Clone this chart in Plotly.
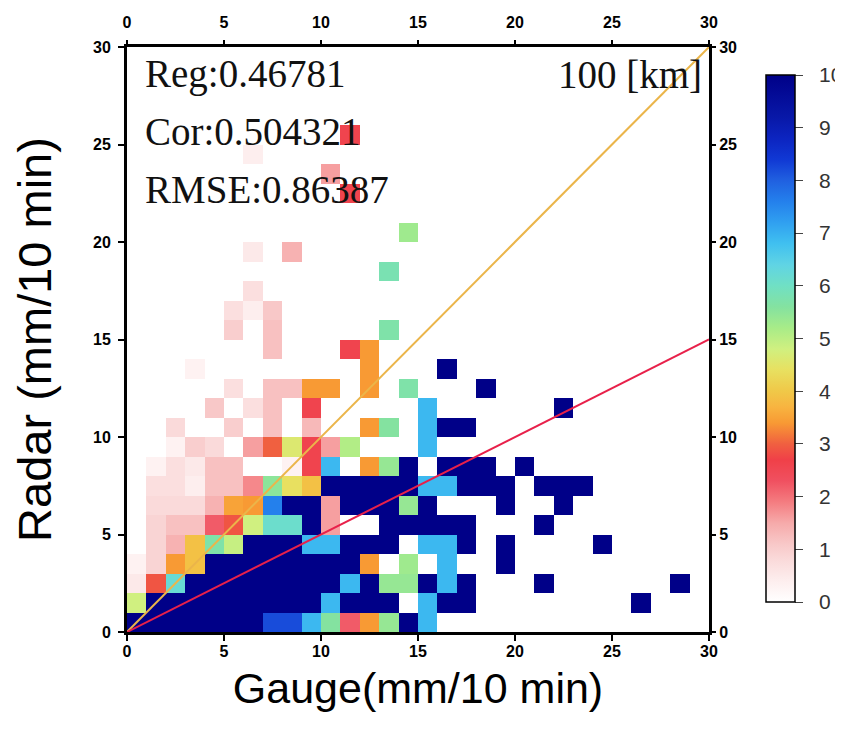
import plotly.graph_objects as go

# ---- data -------------------------------------------------------------
gauge_bins = [i + 0.5 for i in range(30)]   # cell centres (mm/10 min)
radar_bins = [i + 0.5 for i in range(30)]

# counts[row = radar bin][col = gauge bin]
counts = [
    [10,10,10,10,10,10,10,8.2,8.2,6.9, 5.6,2.2,3.4,5.4,10,6.9,0,0,0,0, 0,0,0,0,0,0,0,0,0,0],
    [4.8,10,10,10,10,10,10,10,10,10, 6.9,10,10,10,0,6.9,10,10,0,0, 0,0,0,0,0,0,10,0,0,0],
    [0.5,2.9,6.2,10,10,10,10,10,10,10, 10,6.9,10,5.4,5.4,10,6.9,10,0,0, 0,10,0,0,0,0,0,0,10,0],
    [0.3,0.9,3.4,3.9,10,10,10,10,10,10, 10,10,3.4,0,5.3,0,6.9,0,0,10, 0,0,0,0,0,0,0,0,0,0],
    [0,0.9,1.4,3.9,5.7,4.9,10,10,10,6.9, 6.9,10,10,10,0,6.9,6.9,10,0,10, 0,0,0,0,10,0,0,0,0,0],
    [0,0.9,1.2,1.2,2.2,2.9,4.8,6.1,6.1,10, 1.6,0,0,10,10,10,10,10,0,0, 0,10,0,0,0,0,0,0,0,0],
    [0,0.8,0.8,0.8,1.4,3.5,3.4,7.6,10,10, 1.6,10,10,10,5.4,10,0,0,0,10, 0,0,10,0,0,0,0,0,0,0],
    [0,0.7,0.7,0.4,1.2,1.2,1.8,5.5,4.4,3.9, 10,10,10,10,10,6.9,6.9,10,10,10, 0,10,10,10,0,0,0,0,0,0],
    [0,0.3,0.7,0.5,1.2,1.2,0,0,0.3,2.6, 6.9,0,3.4,5.4,10,0,10,10,10,0, 10,0,0,0,0,0,0,0,0,0],
    [0,0,0.3,1.0,0.8,0,1.6,3.0,4.6,2.6, 1.6,5.1,0,0,0,6.9,0,0,0,0, 0,0,0,0,0,0,0,0,0,0],
    [0,0,0.8,0,0,1.0,0,1.2,0,1.3, 0,0,3.4,5.6,0,6.9,10,10,0,0, 0,0,0,0,0,0,0,0,0,0],
    [0,0,0,0,1.1,0,0.7,1.2,0,2.6, 0,0,0,0,0,6.9,0,0,0,0, 0,0,10,0,0,0,0,0,0,0],
    [0,0,0,0,0,0.7,0,1.2,1.2,3.4, 3.4,0,3.4,0,5.7,0,0,0,10,0, 0,0,0,0,0,0,0,0,0,0],
    [0,0,0,0.3,0,0,0,0,0,0, 0,0,3.4,0,0,0,10,0,0,0, 0,0,0,0,0,0,0,0,0,0],
    [0,0,0,0,0,0,0,1.2,0,0, 0,2.6,3.4,0,0,0,0,0,0,0, 0,0,0,0,0,0,0,0,0,0],
    [0,0,0,0,0,1.0,0,1.2,0,0, 0,0,0,5.7,0,0,0,0,0,0, 0,0,0,0,0,0,0,0,0,0],
    [0,0,0,0,0,0.7,0.4,1.1,0,0, 0,0,0,0,0,0,0,0,0,0, 0,0,0,0,0,0,0,0,0,0],
    [0,0,0,0,0,0,0.7,0,0,0, 0,0,0,0,0,0,0,0,0,0, 0,0,0,0,0,0,0,0,0,0],
    [0,0,0,0,0,0,0,0,0,0, 0,0,0,5.8,0,0,0,0,0,0, 0,0,0,0,0,0,0,0,0,0],
    [0,0,0,0,0,0,0.5,0,1.4,0, 0,0,0,0,0,0,0,0,0,0, 0,0,0,0,0,0,0,0,0,0],
    [0,0,0,0,0,0,0,0,0,0, 0,0,0,0,5.3,0,0,0,0,0, 0,0,0,0,0,0,0,0,0,0],
    [0]*30,
    [0,0,0,0,0,0,0,0,0,0, 0,2.6,0,0,0,0,0,0,0,0, 0,0,0,0,0,0,0,0,0,0],
    [0,0,0,0,0,0,0,0,0,0, 1.6,0,0,0,0,0,0,0,0,0, 0,0,0,0,0,0,0,0,0,0],
    [0,0,0,0,0,0,0.4,0,0,0, 0,0,0,0,0,0,0,0,0,0, 0,0,0,0,0,0,0,0,0,0],
    [0,0,0,0,0,0,0,0,0,0, 0,2.6,0,0,0,0,0,0,0,0, 0,0,0,0,0,0,0,0,0,0],
    [0]*30,
    [0]*30,
    [0]*30,
    [0]*30,
]

axis_ticks = [0, 5, 10, 15, 20, 25, 30]
cbar_ticks = [0, 1, 2, 3, 4, 5, 6, 7, 8, 9, 10]
cbar_labels = ["\u00a0\u00a0" + str(v) for v in cbar_ticks]
line_x = [0, 30]
line_slopes = [1.0, 0.5]          # 1:1 line and fitted line
line_colors = ["#ebb54a", "#e8204a"]
stats_text = ["Reg:0.46781", "Cor:0.504321", "RMSE:0.86387"]
stats_y = [28.6, 25.65, 22.7]
range_label = "100 [km]"

colorscale = [
    [0.00, "#ffffff"], [0.04, "#fdeeee"], [0.08, "#fadada"], [0.11, "#f8c8c8"],
    [0.15, "#f6aaaa"], [0.19, "#f47c80"], [0.23, "#f05060"], [0.27, "#f04048"],
    [0.30, "#f06040"], [0.34, "#f89a34"], [0.37, "#f8b440"], [0.40, "#f0c848"],
    [0.44, "#e8e060"], [0.48, "#d0f080"], [0.52, "#a8ec88"], [0.56, "#84e2a0"],
    [0.60, "#70e0c4"], [0.64, "#60d4e4"], [0.68, "#40c0f0"], [0.72, "#30a0f0"],
    [0.76, "#2480ec"], [0.80, "#2060e0"], [0.84, "#1038d4"], [0.88, "#0c24c0"],
    [0.92, "#0818a8"], [0.96, "#040c98"], [1.00, "#000088"],
]

# ---- figure -----------------------------------------------------------
W, H = 843, 733
OFF = 8                      # page body margin
L, T = 127 - OFF, 47 - OFF
plot_w, plot_h = 582, 585
R = W - L - plot_w
B = H - T - plot_h
bottom_px = T + plot_h       # figure-pixel y of plot bottom

fig = go.Figure()
fig.add_trace(go.Heatmap(
    z=counts, x=gauge_bins, y=radar_bins, zmin=0, zmax=10,
    colorscale=colorscale, xgap=0, ygap=0, hoverinfo="skip",
    colorbar=dict(
        x=(766 - OFF - L) / plot_w, xanchor="left", xpad=0, ypad=0,
        y=(bottom_px - (338.5 - OFF)) / plot_h, yanchor="middle",
        len=527 / plot_h, lenmode="fraction",
        thickness=29, thicknessmode="pixels",
        outlinewidth=1.5, outlinecolor="black",
        tickvals=cbar_ticks, ticktext=cbar_labels,
        ticks="outside", ticklen=8, tickwidth=1.2, tickcolor="#444",
        tickfont=dict(family="Arial, Liberation Sans", size=21, color="#333"),
    ),
))

for s, c in zip(line_slopes, line_colors):
    fig.add_trace(go.Scatter(x=line_x, y=[v * s for v in line_x], mode="lines",
                             line=dict(color=c, width=2), hoverinfo="skip", showlegend=False))

# dummy trace to activate top/right axes
fig.add_trace(go.Scatter(x=[None], y=[None], xaxis="x2", yaxis="y2", showlegend=False))

tickfont = dict(family="Arial, Liberation Sans", size=16, color="black", weight="bold")
common = dict(range=[0, 30], tickvals=axis_ticks, ticks="outside", ticklen=6, tickwidth=2,
              tickcolor="black", showgrid=False, zeroline=False, tickfont=tickfont,
              automargin=False)

fig.update_layout(
    width=W, height=H, margin=dict(l=L, r=R, t=T, b=B, autoexpand=False),
    paper_bgcolor="white", plot_bgcolor="white", showlegend=False,
    xaxis=dict(**common, showline=True, linewidth=3, linecolor="black", mirror=True,
               ticklabelstandoff=-3,
               title=dict(text="Gauge(mm/10 min)", standoff=14,
                          font=dict(family="Arial, Liberation Sans", size=43, color="black"))),
    yaxis=dict(**common, showline=True, linewidth=3, linecolor="black", mirror=True,
               ticklabelstandoff=4,
               title=dict(text="Radar (mm/10 min)", standoff=32,
                          font=dict(family="Arial, Liberation Sans", size=47, color="black"))),
    xaxis2=dict(**common, overlaying="x", side="top", showline=False, ticklabelstandoff=6),
    yaxis2=dict(**common, overlaying="y", side="right", showline=False),
)

for txt, yv in zip(stats_text, stats_y):
    fig.add_annotation(x=0.85, y=yv, xref="x", yref="y", text=txt, showarrow=False,
                       xanchor="left", yanchor="middle",
                       font=dict(family="Liberation Serif, Times New Roman", size=39, color="#111"))
fig.add_annotation(x=29.75, y=stats_y[0], xref="x", yref="y", text=range_label, showarrow=False,
                   xanchor="right", yanchor="middle",
                   font=dict(family="Liberation Serif, Times New Roman", size=39, color="#111"))

fig.write_html("out.html")
